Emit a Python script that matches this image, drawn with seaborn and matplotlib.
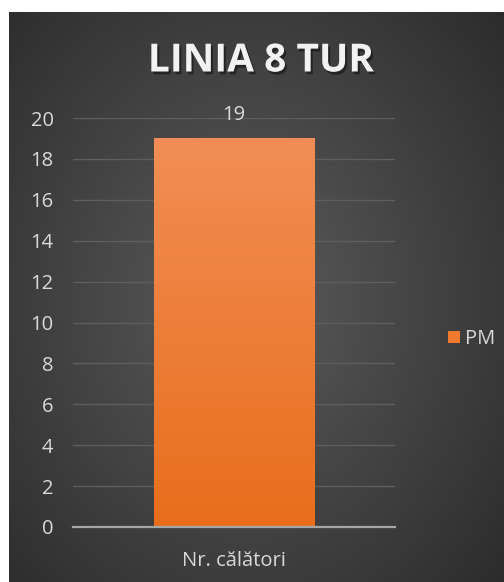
"""Single-bar chart: passengers on line 8, outbound (PM)"""

import numpy as np
import pandas as pd
import matplotlib
matplotlib.use("Agg")
import matplotlib.pyplot as plt
import matplotlib.patheffects as pe
from matplotlib.patches import Rectangle
import seaborn as sns

# data
categories = ["Nr. călători"]
series_name = "PM"
values = [19]
title = "LINIA 8 TUR"
y_ticks = [0, 2, 4, 6, 8, 10, 12, 14, 16, 18, 20]

sns.set_theme(style="dark")
plt.rcParams["font.family"] = ["Open Sans", "DejaVu Sans"]

text_col = "#d9d9d9"
fs = 14.5
bar_top_col = np.array([0xF2, 0x8E, 0x55]) / 255
bar_bot_col = np.array([0xE8, 0x6E, 0x1C]) / 255

fig = plt.figure(figsize=(5.04, 5.82), dpi=100)
fig.patch.set_facecolor("white")

# radial gradient backdrop (chart area, white margin top/left)
bg = fig.add_axes([9 / 504, 0, 1 - 9 / 504, 1 - 12 / 582])
bg.set_axis_off()
yy, xx = np.mgrid[0:1:300j, 0:1:300j]
r = np.sqrt(((xx - 0.48) / 0.75) ** 2 + ((yy - 0.5) / 0.8) ** 2)
shade = np.clip(0.36 - 0.2 * r, 0.14, 0.36)
bg.imshow(np.dstack([shade] * 3), extent=[0, 1, 0, 1], aspect="auto", zorder=0)

df = pd.DataFrame({"category": categories, "value": values, "series": series_name})

ax = fig.add_axes([73 / 504, 1 - 527 / 582, 322 / 504, 409 / 582])
ax.patch.set_alpha(0)
sns.barplot(data=df, x="category", y="value", hue="series", width=0.5,
            palette=[bar_bot_col], ax=ax, legend=False, zorder=3)

ax.set_xlim(-0.5, 0.5)
ax.set_ylim(0, 20)
ax.set_yticks(y_ticks)
ax.yaxis.grid(True, color="#5e5e5e", linewidth=1)
ax.xaxis.grid(False)
for s in ["top", "right", "left"]:
    ax.spines[s].set_visible(False)
ax.spines["bottom"].set_color("#a6a6a6")
ax.spines["bottom"].set_linewidth(1.6)
ax.spines["bottom"].set_zorder(5)
ax.tick_params(axis="y", colors=text_col, labelsize=fs, pad=14, length=0)
ax.tick_params(axis="x", colors=text_col, labelsize=fs, pad=17, length=0)
ax.set_xlabel("")
ax.set_ylabel("")

# vertical gradient fill on the bar
grad = np.linspace(0, 1, 256)[:, None]
img = bar_top_col * (1 - grad[..., None]) + bar_bot_col * grad[..., None]
img = np.repeat(img, 2, axis=1)
for p in ax.patches:
    p.set_edgecolor("none")
    x0, y0, w, h = p.get_x(), p.get_y(), p.get_width(), p.get_height()
    im = ax.imshow(img, extent=[x0, x0 + w, y0, y0 + h], aspect="auto", zorder=4)
    im.set_clip_path(p)
    ax.annotate(f"{h:g}", (x0 + w / 2, h), xytext=(0, 10), textcoords="offset points",
                ha="center", va="bottom", color=text_col, fontsize=fs)

ax.set_xlim(-0.5, 0.5)
ax.set_ylim(0, 20)

# legend on the right
handle = Rectangle((0, 0), 1, 1, facecolor="#f07a2e", edgecolor="none")
leg = fig.legend([handle], [series_name], loc="center left",
                 bbox_to_anchor=(430 / 504, 1 - 339 / 582), frameon=False,
                 handlelength=0.6, handleheight=0.6, handletextpad=0.25,
                 fontsize=fs)
for t in leg.get_texts():
    t.set_color(text_col)

# title with soft shadow
fig.text(261 / 504, 1 - 61 / 582, title, ha="center", va="center",
         fontsize=28, fontweight="bold", color="#f2f2f2",
         path_effects=[pe.withSimplePatchShadow(offset=(1.5, -2), shadow_rgbFace="#111111",
                                                alpha=0.6)])

fig.savefig("out.png", dpi=100, facecolor=fig.get_facecolor())
plt.close(fig)
